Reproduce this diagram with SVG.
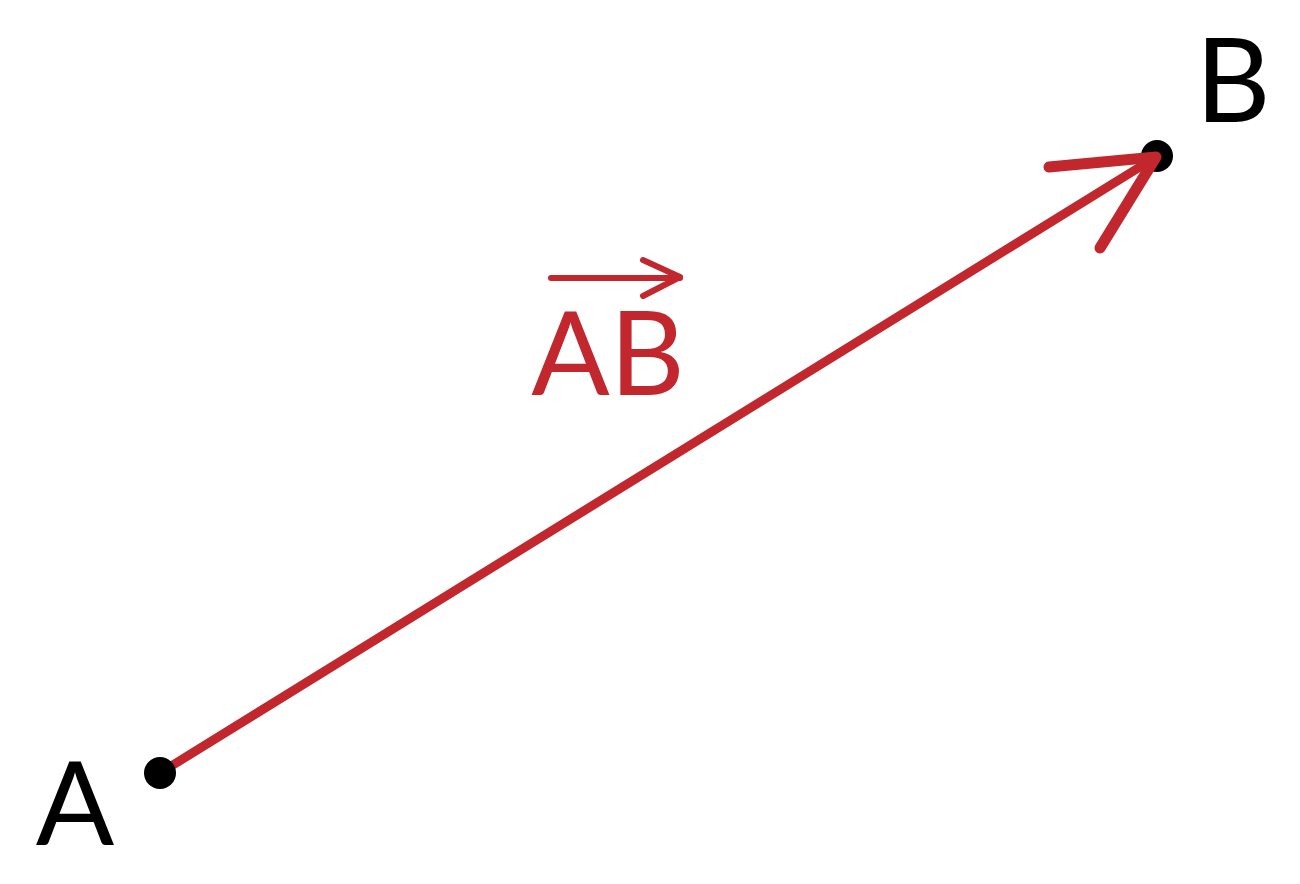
<svg xmlns="http://www.w3.org/2000/svg" width="1300" height="884" viewBox="0 0 1300 884">
<style>
.lbl{font-family:Lato,"Open Sans","Liberation Sans",sans-serif;font-size:116px;text-anchor:middle}
.red{stroke:#c1272d;stroke-linecap:round;stroke-linejoin:round;fill:none}
</style>
<rect width="1300" height="884" fill="#ffffff"/>
<g id="pointB">
<circle cx="1157" cy="156" r="16" fill="#000"/>
<text class="lbl" x="1233" y="122" fill="#000">B</text>
</g>
<g id="connectors">
<line class="red" x1="160" y1="773" x2="1156" y2="157" stroke-width="9"/>
<polyline class="red" points="1049,167 1156,157 1100,248" stroke-width="11"/>
</g>
<g id="pointA">
<circle cx="160" cy="773" r="16" fill="#000"/>
<text class="lbl" x="75" y="845" fill="#000">A</text>
</g>
<g id="vectorLabel">
<polyline class="red" points="551,278 680,278" stroke-width="6"/>
<polyline class="red" points="643,260 680,277 643,296" stroke-width="6"/>
<text class="lbl" x="608" y="395" fill="#c1272d">AB</text>
</g>
</svg>
